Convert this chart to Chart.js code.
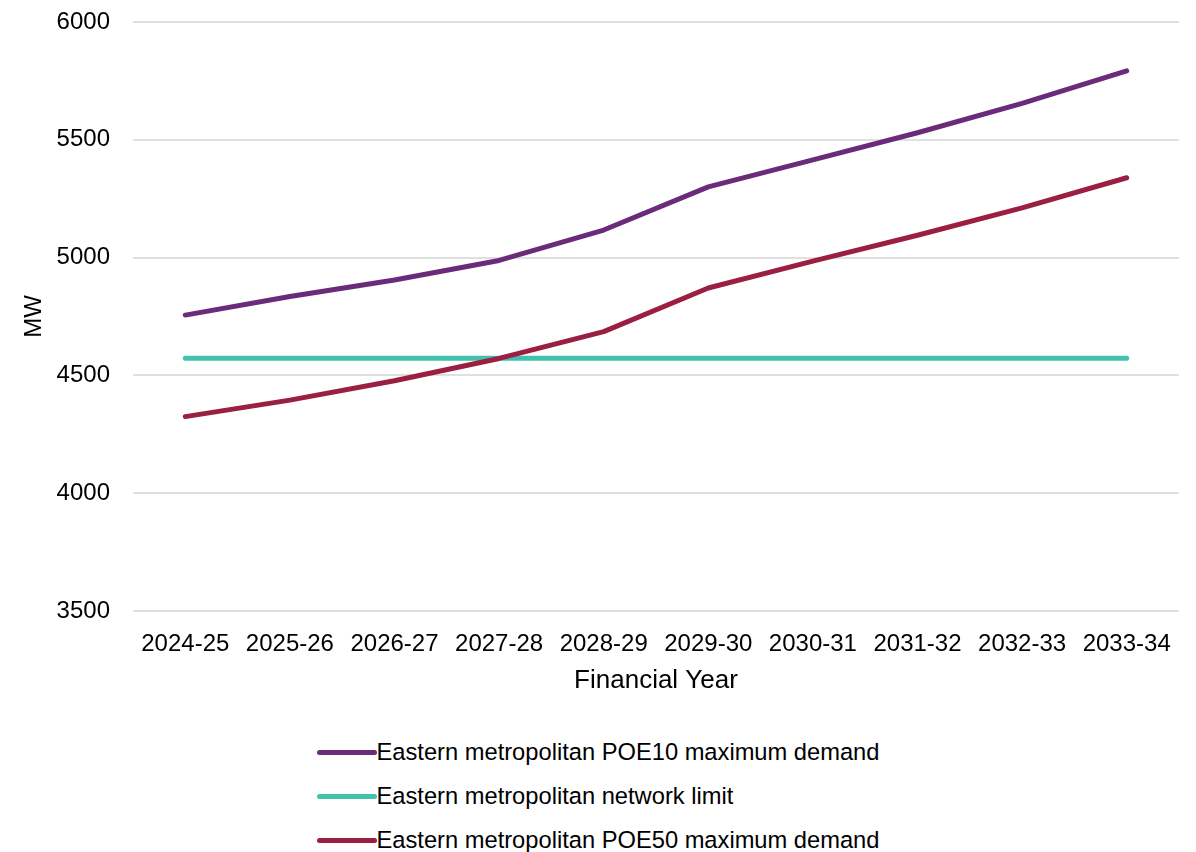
<!DOCTYPE html>
<html>
<head>
<meta charset="utf-8">
<script src="https://cdn.jsdelivr.net/npm/chart.js@4.4.1/dist/chart.umd.min.js"></script>
<style>
  body { margin: 0; background: #fff; font-family: "Liberation Sans", Arial, sans-serif; }
  #wrap { width: 1196px; height: 852px; position: relative; overflow: hidden; }
  #chartBox { width: 1196px; height: 710px; position: relative; }
  #legend { text-align: center; margin-top: 20px; }
  #legend ul { display: inline-block; list-style: none; margin: 0; padding: 0; text-align: left; }
  #legend li { height: 44px; display: flex; align-items: center; font-size: 23.7px; color: #000; }
  #legend .sw { display: inline-block; width: 60px; height: 5px; border-radius: 3px; }
</style>
</head>
<body>
<div id="wrap">
  <div id="chartBox"><canvas id="demandChart"></canvas></div>
  <div id="legend"></div>
</div>
<script>
const years = ['2024-25', '2025-26', '2026-27', '2027-28', '2028-29', '2029-30', '2030-31', '2031-32', '2032-33', '2033-34'];
const poe10 = [4756, 4835, 4905, 4988, 5117, 5300, 5415, 5530, 5655, 5793];
const networkLimit = [4573, 4573, 4573, 4573, 4573, 4573, 4573, 4573, 4573, 4573];
const poe50 = [4325, 4395, 4477, 4572, 4686, 4871, 4985, 5095, 5211, 5339];
const yTicks = [3500, 4000, 4500, 5000, 5500, 6000];

const font = "'Liberation Sans', Arial, sans-serif";

const series = [
  { label: 'Eastern metropolitan POE10 maximum demand', data: poe10, color: '#6a2c7a', order: 2 },
  { label: 'Eastern metropolitan network limit', data: networkLimit, color: '#41c2ad', order: 1 },
  { label: 'Eastern metropolitan POE50 maximum demand', data: poe50, color: '#9a1f42', order: 0 }
];

const ctx = document.getElementById('demandChart').getContext('2d');
const demandChart = new Chart(ctx, {
  type: 'line',
  data: {
    labels: years,
    datasets: series.map(s => ({
      label: s.label,
      data: s.data,
      borderColor: s.color,
      backgroundColor: s.color,
      borderWidth: 5,
      borderCapStyle: 'round',
      borderJoinStyle: 'round',
      pointRadius: 0,
      tension: 0,
      order: s.order
    }))
  },
  options: {
    responsive: true,
    maintainAspectRatio: false,
    animation: false,
    layout: { padding: { top: 22, right: 17, left: 16, bottom: 10 } },
    plugins: {
      legend: { display: false },
      tooltip: { enabled: false }
    },
    scales: {
      x: {
        offset: true,
        afterFit: axis => { axis.height = 89; },
        grid: { display: false, drawTicks: false },
        border: { display: false },
        ticks: { color: '#000', font: { family: font, size: 24 }, padding: 19, maxRotation: 0 },
        title: { display: true, text: 'Financial Year', color: '#000', font: { family: font, size: 26 }, padding: { top: 0, bottom: 4 } }
      },
      y: {
        min: 3500,
        max: 6000,
        afterBuildTicks: axis => { axis.ticks = yTicks.map(v => ({ value: v })); },
        afterFit: axis => { axis.width = 117; axis.paddingTop = 0; axis.paddingBottom = 0; },
        grid: { color: '#e0e0e0', lineWidth: 2, drawTicks: false },
        border: { display: false },
        ticks: { color: '#000', font: { family: font, size: 24 }, padding: 23, callback: v => String(v) },
        title: { display: true, text: 'MW', color: '#000', font: { family: font, size: 24 }, padding: { top: 4, bottom: 8 } }
      }
    }
  }
});

// legend stacked in a column below the chart
const ul = document.createElement('ul');
series.forEach(s => {
  const li = document.createElement('li');
  li.innerHTML = `<span class="sw" style="background:${s.color}"></span><span>${s.label}</span>`;
  ul.appendChild(li);
});
document.getElementById('legend').appendChild(ul);
</script>
</body>
</html>
